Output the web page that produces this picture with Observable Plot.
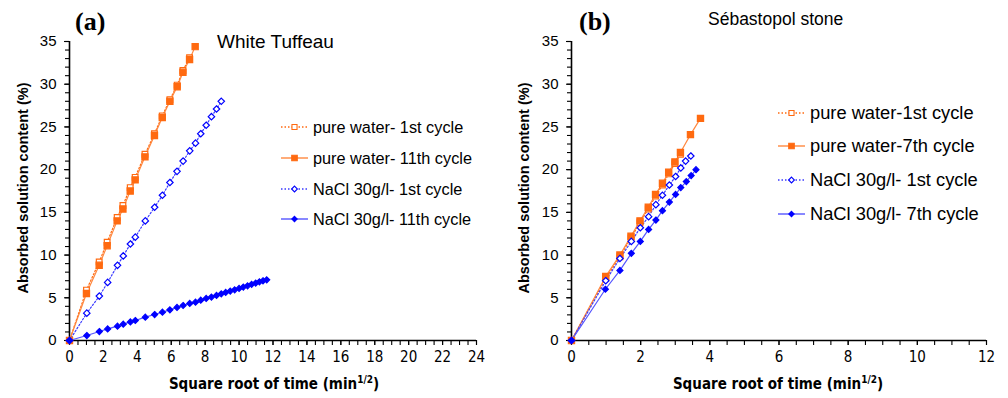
<!DOCTYPE html>
<html><head><meta charset="utf-8">
<script src="https://cdn.jsdelivr.net/npm/d3@7"></script>
<script src="https://cdn.jsdelivr.net/npm/@observablehq/plot@0.6"></script>
<style>
body{margin:0;background:#fff;}
#wrap{position:relative;width:1008px;height:398px;overflow:hidden;font-family:"Liberation Sans",Arial,Helvetica,sans-serif;color:#000;}
.panel{position:absolute;top:0;}
.t{position:absolute;white-space:nowrap;line-height:1;}
.ylab{position:absolute;white-space:nowrap;font-weight:bold;font-size:14.5px;transform:translate(-50%,-50%) rotate(-90deg);line-height:1;}
.xlab{position:absolute;white-space:nowrap;font-weight:bold;font-size:15px;font-family:"Liberation Sans Narrow","Arial Narrow","DejaVu Sans Condensed",sans-serif;transform:translate(-50%,-50%);line-height:1;}
.xlab sup{font-size:10px;vertical-align:6px;}
.leg{position:absolute;display:flex;align-items:center;white-space:nowrap;}
.leg svg{display:block;margin-right:5px;}
.ttl{position:absolute;font-family:"Liberation Serif","Times New Roman",serif;font-weight:bold;font-size:26px;line-height:1;}
</style></head><body><div id="wrap"></div>
<script>
// ---------- Panel (a) White Tuffeau ----------
const aPW1x  = [0, 1.0, 1.75, 2.22, 2.81, 3.15, 3.58, 3.87, 4.45, 5.01, 5.47, 5.92, 6.35, 6.69, 7.08];
const aPW1y  = [0, 5.9, 9.2, 11.5, 14.4, 15.8, 17.9, 19.1, 21.8, 24.2, 26.3, 28.2, 29.9, 31.6, 33.1];
const aPW11x = [0, 1.0, 1.75, 2.22, 2.81, 3.15, 3.58, 3.87, 4.45, 5.01, 5.47, 5.92, 6.35, 6.69, 7.08, 7.41];
const aPW11y = [0, 5.5, 8.8, 11.1, 14.0, 15.4, 17.5, 18.8, 21.5, 24.0, 26.1, 28.0, 29.7, 31.4, 32.9, 34.4];
const aNa1x  = [0, 1.02, 1.76, 2.25, 2.83, 3.17, 3.59, 3.88, 4.47, 5.02, 5.48, 5.92, 6.34, 6.70, 7.09, 7.43, 7.74, 8.06, 8.37, 8.67, 8.95];
const aNa1y  = [0, 3.2, 5.2, 6.8, 8.8, 9.9, 11.3, 12.1, 14.0, 15.6, 17.0, 18.5, 19.8, 21.0, 22.2, 23.1, 24.2, 25.2, 26.2, 27.1, 28.0];
const aNa11x = [0, 1.02, 1.76, 2.25, 2.83, 3.17, 3.59, 3.88, 4.47, 5.02, 5.48, 5.92, 6.34, 6.70, 7.09, 7.43, 7.74, 8.06, 8.37, 8.67, 8.95,
                9.21, 9.48, 9.74, 10.0, 10.25, 10.5, 10.74, 10.98, 11.2, 11.41, 11.63];
const aNa11y = [0, 0.58, 1.05, 1.36, 1.68, 1.91, 2.18, 2.34, 2.73, 3.04, 3.32, 3.59, 3.87, 4.10, 4.34, 4.49, 4.72, 4.92, 5.08, 5.28, 5.46,
                5.63, 5.78, 5.93, 6.10, 6.25, 6.40, 6.57, 6.72, 6.87, 6.99, 7.10];
const aLabels = ["pure water- 1st cycle", "pure water- 11th cycle", "NaCl 30g/l- 1st cycle", "NaCl 30g/l- 11th cycle"];

// ---------- Panel (b) Sébastopol stone ----------
const bPW1x  = [0, 0.99, 1.40, 1.72, 1.98, 2.22, 2.43, 2.63, 2.81, 2.99, 3.15];
const bPW1y  = [0, 7.3, 9.8, 12.0, 13.8, 15.4, 16.9, 18.2, 19.5, 20.7, 21.8];
const bPW7x  = [0, 0.99, 1.40, 1.72, 1.98, 2.22, 2.43, 2.63, 2.81, 2.99, 3.15, 3.44, 3.73];
const bPW7y  = [0, 7.5, 10.0, 12.2, 14.0, 15.6, 17.1, 18.4, 19.7, 20.9, 22.0, 24.1, 26.0];
const bNa1x  = [0, 0.99, 1.40, 1.73, 1.99, 2.23, 2.44, 2.63, 2.83, 3.01, 3.16, 3.30, 3.45];
const bNa1y  = [0, 7.0, 9.6, 11.6, 13.2, 14.5, 15.9, 17.0, 18.2, 19.2, 20.2, 21.0, 21.6];
const bNa7x  = [0, 0.98, 1.40, 1.73, 1.99, 2.23, 2.44, 2.63, 2.83, 3.01, 3.16, 3.32, 3.46, 3.60];
const bNa7y  = [0, 6.0, 8.2, 10.2, 11.6, 13.0, 14.1, 15.2, 16.2, 17.1, 17.9, 18.6, 19.3, 20.0];
const bLabels = ["pure water-1st cycle", "pure water-7th cycle", "NaCl 30g/l- 1st cycle", "NaCl 30g/l- 7th cycle"];

// axis ticks
const yMajor = [0, 5, 10, 15, 20, 25, 30, 35];
const xMajorA = [0, 2, 4, 6, 8, 10, 12, 14, 16, 18, 20, 22, 24];
const xMajorB = [0, 2, 4, 6, 8, 10, 12];

// styles (per series order: PW1, PW-last, Na1, Na-last)
const ORANGE = "#ff6a10", ORANGE_L = "#ff8840", BLUE = "#0000ff", BLUE_L = "#5555ff";
const styles = [
  {line: ORANGE, dash: "1.5,2", sym: "square", fill: "white", stroke: ORANGE, r: 3.2},
  {line: ORANGE_L, dash: null, sym: "square", fill: ORANGE, stroke: ORANGE, r: 3.5},
  {line: "#3a3aff", dash: "1.5,2", sym: "diamond2", fill: "white", stroke: BLUE, r: 2.9},
  {line: BLUE_L, dash: null, sym: "diamond2", fill: BLUE, stroke: BLUE, r: 2.7}
];

function rows(xs, ys) { return xs.map((x, i) => ({x, y: ys[i]})); }

function seriesMarks(list) {
  const m = [];
  list.forEach((d, i) => {
    const s = styles[i];
    m.push(Plot.line(d, {x: "x", y: "y", stroke: s.line, strokeWidth: 1.2, strokeDasharray: s.dash}));
  });
  list.forEach((d, i) => {
    const s = styles[i];
    m.push(Plot.dot(d, {x: "x", y: "y", symbol: s.sym, r: s.r, fill: s.fill, stroke: s.stroke, strokeWidth: 1.2}));
  });
  return m;
}

const tickFont = "'Liberation Sans Narrow', 'Arial Narrow', 'DejaVu Sans Condensed', sans-serif";

function makePlot({xMax, xMajor, xMinorStep, marginLeft, marginRight, series}) {
  const xMinor = d3.range(0, xMax + 1e-9, xMinorStep);
  const yMinor = d3.range(0, 35.001, 1);
  return Plot.plot({
    width: 504, height: 398,
    marginLeft, marginRight, marginTop: 41, marginBottom: 58,
    x: {domain: [0, xMax]},
    y: {domain: [0, 35]},
    style: {background: "transparent", overflow: "visible", fontFamily: "'Liberation Sans', Arial, sans-serif"},
    marks: [
      Plot.axisY({ticks: yMinor, tickSize: 4, tickFormat: () => "", label: null, strokeWidth: 1.1}),
      Plot.axisY({ticks: yMajor, tickSize: 5, tickPadding: 8, label: null, fontSize: 15, strokeWidth: 1.1}),
      Plot.axisX({ticks: xMinor, tickSize: 5, tickFormat: () => "", label: null, strokeWidth: 1.1}),
      Plot.axisX({ticks: xMajor, tickSize: 5, tickPadding: 6, label: null, fontSize: 15,
                  fontFamily: tickFont, strokeWidth: 1.1}),
      Plot.ruleX([0], {strokeWidth: 1.6}),
      Plot.ruleY([0], {strokeWidth: 1.6}),
      ...seriesMarks(series)
    ]
  });
}

const wrap = document.getElementById("wrap");

const pa = makePlot({xMax: 24, xMajor: xMajorA, xMinorStep: 0.5, marginLeft: 69, marginRight: 28,
  series: [rows(aPW1x, aPW1y), rows(aPW11x, aPW11y), rows(aNa1x, aNa1y), rows(aNa11x, aNa11y)]});
pa.classList.add("panel"); pa.style.left = "0px";
wrap.appendChild(pa);

const pb = makePlot({xMax: 12, xMajor: xMajorB, xMinorStep: 0.5, marginLeft: 67, marginRight: 22,
  series: [rows(bPW1x, bPW1y), rows(bPW7x, bPW7y), rows(bNa1x, bNa1y), rows(bNa7x, bNa7y)]});
pb.classList.add("panel"); pb.style.left = "504px";
wrap.appendChild(pb);

function addDiv(cls, html, css) {
  const d = document.createElement("div");
  d.className = cls; d.innerHTML = html;
  Object.assign(d.style, css);
  wrap.appendChild(d);
  return d;
}

// titles
addDiv("ttl", "(a)", {left: "75px", top: "9px"});
addDiv("t", "White Tuffeau", {left: "217px", top: "32px", fontSize: "19px"});
addDiv("ttl", "(b)", {left: "579px", top: "9px"});
addDiv("t", "Sébastopol stone", {left: "708px", top: "11px", fontSize: "17.5px"});

// axis labels
addDiv("ylab", "Absorbed solution content (%)", {left: "23px", top: "188px"});
addDiv("ylab", "Absorbed solution content (%)", {left: "524px", top: "188px"});
addDiv("xlab", "Square root of time (min<sup>1/2</sup>)", {left: "274px", top: "383px"});
addDiv("xlab", "Square root of time (min<sup>1/2</sup>)", {left: "778px", top: "383px"});

// legends
function swatch(s) {
  const ns = "http://www.w3.org/2000/svg";
  const svg = document.createElementNS(ns, "svg");
  svg.setAttribute("width", 27); svg.setAttribute("height", 10);
  const ln = document.createElementNS(ns, "line");
  ln.setAttribute("x1", 0); ln.setAttribute("x2", 27); ln.setAttribute("y1", 5); ln.setAttribute("y2", 5);
  ln.setAttribute("stroke", s.line); ln.setAttribute("stroke-width", 1.4);
  if (s.dash) ln.setAttribute("stroke-dasharray", s.dash);
  svg.appendChild(ln);
  const p = document.createElementNS(ns, "path");
  const sym = s.sym === "square" ? d3.symbolSquare : d3.symbolDiamond2;
  p.setAttribute("d", d3.symbol(sym, Math.PI * s.r * s.r * 0.8)());
  p.setAttribute("transform", "translate(13.5,5)");
  p.setAttribute("fill", s.fill); p.setAttribute("stroke", s.stroke); p.setAttribute("stroke-width", 1.1);
  svg.appendChild(p);
  return svg;
}
function legend(labels, left, tops, fs) {
  labels.forEach((lab, i) => {
    const d = addDiv("leg", "", {left: left + "px", top: (tops[i] - 10) + "px", height: "20px", fontSize: fs + "px"});
    d.appendChild(swatch(styles[i]));
    const sp = document.createElement("span"); sp.textContent = lab; d.appendChild(sp);
  });
}
legend(aLabels, 281, [127, 158, 189, 219], 16.3);
legend(bLabels, 778, [113, 146, 180, 214], 18.3);
</script></body></html>
